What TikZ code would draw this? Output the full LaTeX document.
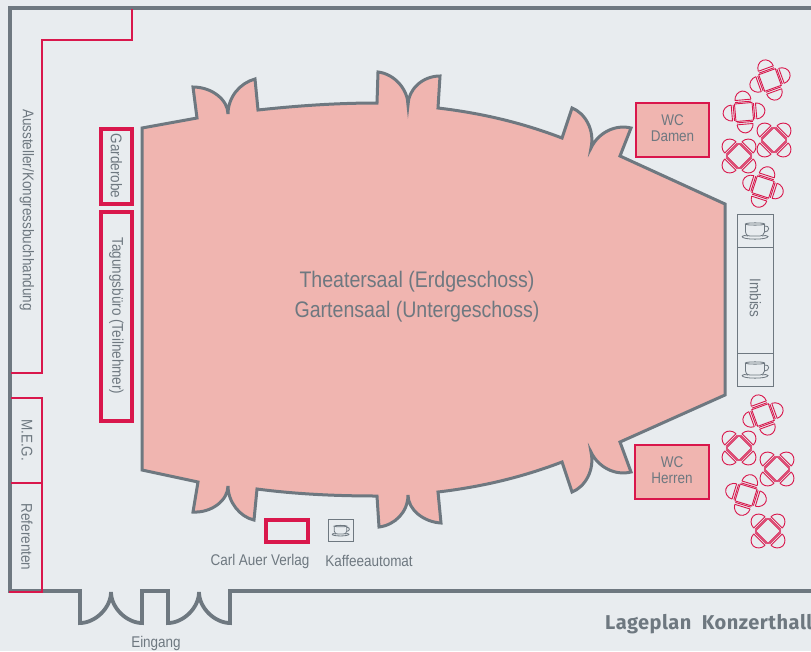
\documentclass[tikz,border=0pt]{standalone}
\usepackage{fontspec}
\setmainfont[FakeStretch=0.87]{Liberation Sans}
\newfontfamily\titlefont[LetterSpace=2.5]{Fira Sans}
\definecolor{bgc}{HTML}{E8ECEF}
\definecolor{wall}{HTML}{6E7880}
\definecolor{hallc}{HTML}{F0B5B0}
\definecolor{redc}{HTML}{D9174C}
\tikzset{
 wallline/.style={draw=wall,line width=3.8pt,line join=miter},
 redline/.style={draw=redc,line width=2.95pt,line join=miter},
 redbox/.style={draw=redc,line width=3.1pt,line join=miter},
 lbl/.style={text=wall,font=\fontsize{15.5}{16}\selectfont,inner sep=0pt,align=center},
 biglbl/.style={text=wall,font=\fontsize{22.5}{30}\selectfont,inner sep=0pt,align=center},
 wcbox/.style={draw=redc,fill=hallc,line width=1.7pt,inner sep=0pt},
 thin grey/.style={draw=wall,line width=1pt},
 chairset/.pic={
  \draw[draw=redc,line width=0.9pt] (-8.8,-8.8) rectangle (8.8,8.8);
  \foreach \a in {0,90,180,270}{
   \begin{scope}[rotate=\a]
    \draw[draw=redc,line width=0.9pt] (-8,-10.2) -- (8,-10.2) (-8,-12.2) -- (8,-12.2);
    \draw[draw=redc,line width=0.9pt] (-8,-12.2) .. controls (-8,-17) and (-4.2,-21) .. (0,-21)
      .. controls (4.2,-21) and (8,-17) .. (8,-12.2);
   \end{scope}}
 },
 cuppic/.pic={
  \draw[draw=wall,line width=0.8pt] (-9.5,-6) .. controls (-9.5,-7.5) and (9.5,-7.5) .. (9.5,-6)
     .. controls (9.5,-4.5) and (-9.5,-4.5) .. (-9.5,-6) -- cycle;
  \draw[draw=wall,line width=0.8pt] (-9.5,-6) -- (-9.5,2) .. controls (-9,6) and (-6,6) .. (-5,6) -- (5,6)
     .. controls (7,6) and (9,5) .. (9.5,2) -- (9.5,-6);
  \draw[draw=wall,line width=0.8pt] (9.5,-4) .. controls (15,-5) and (15,2) .. (9.5,2);
  \draw[draw=wall,line width=0.8pt] (-13,6.5) .. controls (-13,10) and (13,10) .. (13,6.5)
     .. controls (12,5) and (10,5.5) .. (7,6) (-7,6) .. controls (-10,5.5) and (-12,5) .. (-13,6.5);
 }
}
\begin{document}
\begin{tikzpicture}[x=1pt,y=-1pt]
\useasboundingbox (0,0) rectangle (811,651);
\clip (0,0) rectangle (811,651);
\fill[bgc] (0,0) rectangle (811,651);
% hall
\filldraw[fill=hallc,draw=wall,line width=3pt,line join=miter]
 (142,128) -- (197,118) -- (193,87)
 .. controls (212,87) and (228,100) .. (228,114)
 .. controls (228,97) and (240,83) .. (255,79)
 -- (258,110) .. controls (295,106) and (335,103) .. (377,103)
 -- (378,72) .. controls (395,74) and (408,90) .. (408,105)
 .. controls (408,90) and (422,76) .. (440,76)
 -- (438,108) .. controls (480,113) and (520,122) .. (562,138)
 -- (572,108) .. controls (585,113) and (595,130) .. (591,148)
 .. controls (598,133) and (615,124) .. (631,128)
 -- (620,156) -- (725,204) -- (725,395) -- (620,442)
 -- (631,472) .. controls (615,476) and (598,467) .. (591,452)
 .. controls (595,470) and (585,487) .. (572,492)
 -- (562,462) .. controls (520,478) and (480,487) .. (438,492)
 -- (441,523) .. controls (424,522) and (408,510) .. (408,495)
 .. controls (408,512) and (395,525) .. (379,527)
 -- (377,496) .. controls (335,496) and (295,494) .. (257,489)
 -- (254,520) .. controls (240,517) and (228,502) .. (228,486)
 .. controls (228,500) and (212,513) .. (193,512)
 -- (198,482) -- (142,470) -- cycle;
\node[biglbl] (saal) at (417,297) {Theatersaal (Erdgeschoss)\\Gartensaal (Untergeschoss)};
% walls
\draw[wallline] (811,8) -- (10,8) -- (10,591) -- (80,591) -- (80,623)
 .. controls (95,623) and (111,608) .. (111,592)
 .. controls (111,608) and (127,623) .. (142,623)
 -- (142,591) -- (168,591) -- (168,623)
 .. controls (183,623) and (199,608) .. (199,592)
 .. controls (199,608) and (215,623) .. (230,623)
 -- (230,591) -- (811,591);
% red partitions
\draw[redline] (132,9) -- (132,40) -- (42,40) -- (42,373) -- (11,373);
\draw[redline] (11,398) -- (42,398) -- (42,592) -- (9,592);
\draw[redline] (11,483) -- (42,483);
\draw[redbox] (101,129) rectangle (132,204);
\draw[redbox] (101,212) rectangle (132,421);
\draw[redbox] (266,520) rectangle (308,542);
% WCs
\node[wcbox,minimum width=73pt,minimum height=54pt] (wcd) at (672.5,130) {};
\node[lbl] (wcdl) at (672.5,128.5) {WC\\Damen};
\node[wcbox,minimum width=74pt,minimum height=54pt] (wch) at (672,472) {};
\node[lbl] (wchl) at (672,470.5) {WC\\Herren};
% Imbiss
\draw[thin grey] (737,214) rectangle (773,386) (737,247) -- (773,247) (737,353) -- (773,353);
\pic at (755,230) {cuppic};
\pic at (755,369) {cuppic};
\draw[thin grey] (328,519) rectangle (353,541);
\pic[scale=0.65] at (340.5,530) {cuppic};
% labels
\node[lbl,rotate=-90] (ausst) at (27,210) {Aussteller/Kongressbuchhandung};
\node[lbl,rotate=-90] (meg) at (27,440) {M.E.G.};
\node[lbl,rotate=-90] (ref) at (27,537) {Referenten};
\node[lbl,rotate=-90] (gard) at (116.5,166) {Garderobe};
\node[lbl,rotate=-90] (tag) at (116.5,316) {Tagungsbüro (Teilnehmer)};
\node[lbl,rotate=-90] (imb) at (755.5,298) {Imbiss};
\node[lbl] (auer) at (260,561) {Carl Auer Verlag};
\node[lbl] (kaffee) at (369,561) {Kaffeeautomat};
\node[lbl] (eing) at (156,643.5) {Eingang};
\node[text=wall,inner sep=0pt,anchor=base west,font=\titlefont\bfseries\fontsize{20}{22}\selectfont] (titel) at (605,629.5) {Lageplan\ \ Konzerthall};
% tables
\pic[rotate=20] at (770,80) {chairset};
\pic[rotate=5] at (744,112) {chairset};
\pic[rotate=45] at (774,140) {chairset};
\pic[rotate=45] at (739,156) {chairset};
\pic[rotate=-18] at (763,187) {chairset};
\pic[rotate=20] at (763,415) {chairset};
\pic[rotate=45] at (739,448) {chairset};
\pic[rotate=45] at (777,469) {chairset};
\pic[rotate=-17] at (746,495) {chairset};
\pic[rotate=45] at (768,531) {chairset};
\end{tikzpicture}
\end{document}
